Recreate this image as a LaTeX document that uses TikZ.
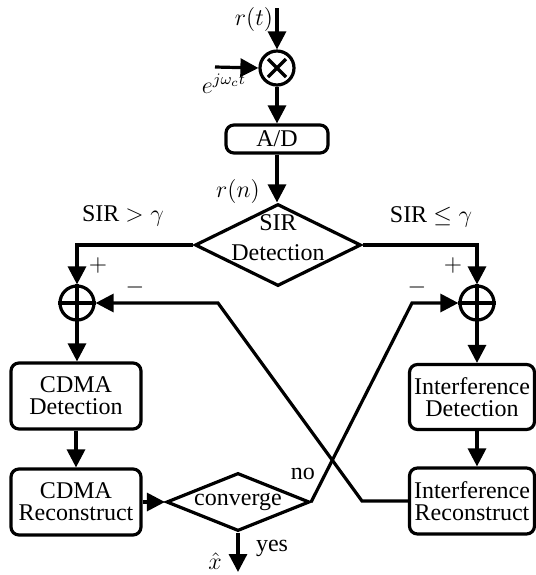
\documentclass[tikz,border=0pt]{standalone}
\usepackage{amsmath,amssymb}
\usepackage{fontspec}
\setmainfont{Liberation Serif}
\usepackage{tikz}
\usetikzlibrary{arrows.meta,calc,positioning,shapes.geometric}
\tikzset{
  blk/.style={draw,rounded corners=4pt,line width=1.6pt,align=center,inner sep=1pt,
    font=\fontsize{12}{11}\selectfont},
  decision/.style={draw,diamond,line width=1.6pt,inner sep=0pt},
  mixer/.style={draw,circle,line width=1.6pt,minimum size=17pt,inner sep=0pt},
  sig/.style={line width=1.6pt,-{Triangle[length=9pt,width=9pt]}},
  wire/.style={line width=1.6pt},
}

\begin{document}
\begin{tikzpicture}[x=0.5pt,y=-0.5pt,font=\fontsize{12}{15}\selectfont]
  \useasboundingbox (0,0) rectangle (536,575);
  % front end
  \coordinate (rt) at (277,8);
  \coordinate (lo) at (215,67);
  \node[mixer] (mix) at (277,68) {};
  \draw[wire] (mix.center) +(-9,-9) -- +(9,9) (mix.center) +(9,-9) -- +(-9,9);
  \node[blk,minimum width=51pt,minimum height=14pt] (ad) at (277,139) {A/D};
  \node[decision,minimum width=83pt,minimum height=41pt] (sir) at (278,245) {};
  \node[align=center] (sirtxt) at (278,238) {SIR\\Detection};
  \draw[sig] (rt) -- (mix.north);
  \draw[sig] (lo) -- (mix.west);
  \draw[sig] (mix.south) -- (ad.north);
  \draw[sig] (ad.south) -- (ad.south |- sir.north);
  \node (rtl) at (254,19) {$r(t)$};
  \node (lol) at (224,84) {$e^{j\omega_c t}$};
  \node (rnl) at (238,191) {$r(n)$};
  % adders
  \node[mixer] (sum1) at (77,303) {};
  \node[mixer] (sum2) at (477,303) {};
  \draw[wire] (sum1.north) -- (sum1.south) (sum1.west) -- (sum1.east);
  \draw[wire] (sum2.north) -- (sum2.south) (sum2.west) -- (sum2.east);
  \draw[sig] (sir.west) -| (sum1.north);
  \draw[sig] (sir.east) -| (sum2.north);
  \node (gt) at (123,216) {SIR $>\gamma$};
  \node (le) at (431,217) {SIR $\leq\gamma$};
  \node (p1) at (98,265) {$+$};
  \node (p2) at (453,265) {$+$};
  \node (m1) at (135,287) {$-$};
  \node (m2) at (417,287) {$-$};
  % detection / reconstruction
  \node[blk,minimum width=65pt,minimum height=33pt] (cdet) at (76,396) {CDMA\\Detection};
  \node[blk,minimum width=65pt,minimum height=33pt] (crec) at (76,502) {CDMA\\Reconstruct};
  \node[blk,minimum width=62.5pt,minimum height=32.5pt] (idet) at (472,397) {Interference\\Detection};
  \node[blk,minimum width=62.5pt,minimum height=33pt] (irec) at (472,501) {Interference\\Reconstruct};
  \node[decision,aspect=2.47,minimum width=71.5pt,minimum height=29pt] (conv) at (238,502) {converge};
  \draw[sig] (sum1.south) -- (sum1 |- cdet.north);
  \draw[sig] (cdet.south) -- (crec.north);
  \draw[sig] (sum2.south) -- (sum2 |- idet.north);
  \draw[sig] (idet.south -| sum2) -- (irec.north -| sum2);
  \draw[sig] (crec.east) -- (conv.west);
  % feedback
  \coordinate (k1) at (362,501);
  \coordinate (k2) at (218,303);
  \coordinate (k3) at (412,303);
  \draw[sig] (irec.west) -- (k1) -- (k2) -- (sum1.east);
  \draw[sig] (conv.east) -- (k3) -- (sum2.west);
  % output
  \coordinate (xo) at (238,572);
  \draw[sig] (conv.south) -- (xo);
  \node (nol) at (303,474) {no};
  \node (yesl) at (272,548) {yes};
  \node (xl) at (215,561) {$\hat{x}$};
\end{tikzpicture}
\end{document}
